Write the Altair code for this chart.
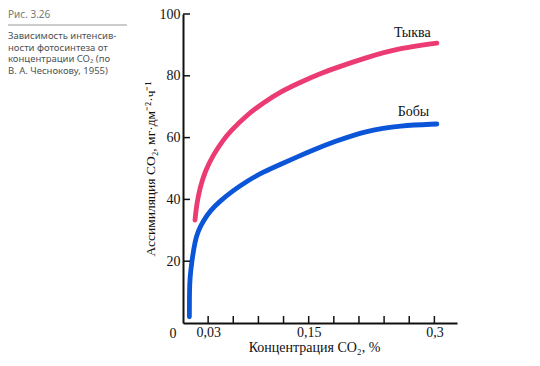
import altair as alt
import pandas as pd

# --- data ---
pumpkin_conc = [0.0143, 0.0163, 0.0203, 0.0263, 0.0362, 0.0482, 0.0562, 0.0761, 0.0960, 0.1159,
                0.1398, 0.1637, 0.1796, 0.2195, 0.2593, 0.303]
pumpkin_val = [33.3, 38.4, 43.8, 49.1, 54.5, 59.3, 62.0, 67.3, 71.3, 74.8,
               77.9, 80.7, 82.3, 86.0, 89.0, 90.6]
beans_conc = [0.0076, 0.0077, 0.0084, 0.0104, 0.0143, 0.0183, 0.0243, 0.0323, 0.0442, 0.0601,
              0.0761, 0.0960, 0.1159, 0.1358, 0.1557, 0.1796, 0.2195, 0.2593, 0.303]
beans_val = [2.0, 10.6, 14.9, 19.7, 26.6, 29.9, 33.1, 36.3, 39.5, 42.9,
             45.9, 48.9, 51.3, 53.7, 56.0, 58.6, 62.3, 63.9, 64.4]
series_names = ["Тыква", "Бобы"]
series_colors = ["#EC3A72", "#0B55D9"]
label_conc = [0.2736, 0.275]
label_val = [94.0, 68.4]

x_ticks = [0.03, 0.06, 0.09, 0.12, 0.15, 0.18, 0.21, 0.24, 0.27, 0.30]
y_ticks = [20, 40, 60, 80, 100]

caption_head = "Рис. 3.26"
caption_lines = [
    "Зависимость интенсив-",
    "ности фотосинтеза от",
    "концентрации CO₂ (по",
    "В. А. Чеснокову, 1955)",
]

X_TITLE = "Концентрация CO₂, %"
Y_TITLE = "Ассимиляция CO₂, мг·дм⁻²·ч⁻¹"
TOP = 6
W, H = 274, 309

rows = []
for c, v in zip(pumpkin_conc, pumpkin_val):
    rows.append({"conc": c, "val": v, "crop": series_names[0]})
for c, v in zip(beans_conc, beans_val):
    rows.append({"conc": c, "val": v, "crop": series_names[1]})
df = pd.DataFrame(rows)

label_expr = (
    "abs(datum.value-0.03)<1e-6 ? '0,03' : "
    "abs(datum.value-0.15)<1e-6 ? '0,15' : "
    "abs(datum.value-0.3)<1e-6 ? '0,3' : ''"
)

xscale = alt.Scale(domain=[0, 0.327], nice=False, zero=False)
yscale = alt.Scale(domain=[0, 100], nice=False)

x_axis = alt.Axis(
    values=x_ticks, labelExpr=label_expr, ticks=False, grid=False,
    labelPadding=2, labelFont="Liberation Serif", labelFontSize=14,
    labelColor="#111", domainColor="#111", domainWidth=2,
    title=X_TITLE, titleFont="Liberation Serif", titleFontSize=14,
    titleFontWeight="normal", titleColor="#111",
    titleX=131, titleY=24, titleBaseline="middle", titleAlign="center",
)
y_axis = alt.Axis(
    values=y_ticks, ticks=False, grid=False, labelPadding=3,
    labelFont="Liberation Serif", labelFontSize=14, labelColor="#111",
    domainColor="#111", domainWidth=2,
    title=Y_TITLE, titleFont="Liberation Serif", titleFontSize=13.5,
    titleFontWeight="normal", titleColor="#111",
    titleX=-33, titleY=H / 2, titleBaseline="middle", titleAlign="center", titleAngle=-90,
)


def X(field):
    return alt.X(f"{field}:Q", scale=xscale, axis=x_axis, title=X_TITLE)


def Y(field):
    return alt.Y(f"{field}:Q", scale=yscale, axis=y_axis, title=Y_TITLE)


lines = alt.Chart(df).mark_line(
    strokeWidth=4.8, interpolate="basis", strokeCap="round"
).encode(
    x=X("conc"), y=Y("val"),
    color=alt.Color("crop:N", scale=alt.Scale(domain=series_names, range=series_colors), legend=None),
    detail="crop:N",
    order="conc:Q",
)

labels_df = pd.DataFrame({"conc": label_conc, "val": label_val, "name": series_names})
labels = alt.Chart(labels_df).mark_text(
    font="Liberation Serif", fontSize=14, color="#111", align="center", baseline="middle"
).encode(x=X("conc"), y=Y("val"), text="name:N")

zero_df = pd.DataFrame({"conc": [0.0], "val": [0.0], "t": ["0"]})
zero = alt.Chart(zero_df).mark_text(
    font="Liberation Serif", fontSize=14, color="#111", align="center", baseline="middle", dx=-10, dy=11
).encode(x=X("conc"), y=Y("val"), text="t:N")

xt_df = pd.DataFrame({"conc": x_ticks})
xticks = alt.Chart(xt_df).mark_rule(color="#111", strokeWidth=1.5).encode(
    x=X("conc"), y=alt.value(H), y2=alt.value(H - 7)
)
yt_df = pd.DataFrame({"val": y_ticks})
yticks = alt.Chart(yt_df).mark_rule(color="#111", strokeWidth=1.5).encode(
    y=Y("val"), x=alt.value(0), x2=alt.value(7)
)

LEFT = -175
cap_layers = []
cap_layers.append(
    alt.Chart(pd.DataFrame({"t": [caption_head]})).mark_text(
        font="Noto Sans", fontSize=10, color="#777", align="left", baseline="alphabetic"
    ).encode(x=alt.value(LEFT), y=alt.value(18 - 8 - TOP), text="t:N")
)
cap_layers.append(
    alt.Chart(pd.DataFrame({"a": [0]})).mark_rule(color="#999", strokeWidth=1).encode(
        x=alt.value(LEFT), x2=alt.value(-56), y=alt.value(25 - 8 - TOP)
    )
)
baselines = [39, 50.5, 62, 73.5]
for line, b in zip(caption_lines, baselines):
    cap_layers.append(
        alt.Chart(pd.DataFrame({"t": [line]})).mark_text(
            font="Noto Sans", fontSize=9.5, color="#4d5358", align="left", baseline="alphabetic"
        ).encode(x=alt.value(LEFT), y=alt.value(b - 8 - TOP), text="t:N")
    )

chart = alt.layer(
    lines, labels, zero, xticks, yticks, *cap_layers
).properties(
    width=W, height=H,
    autosize=alt.AutoSizeParams(type="none"),
    padding={"left": 175, "top": TOP, "right": 75, "bottom": 35},
    background="white",
).configure_view(stroke=None)

chart.save("out.html", embed_options={"renderer": "svg", "actions": False})
